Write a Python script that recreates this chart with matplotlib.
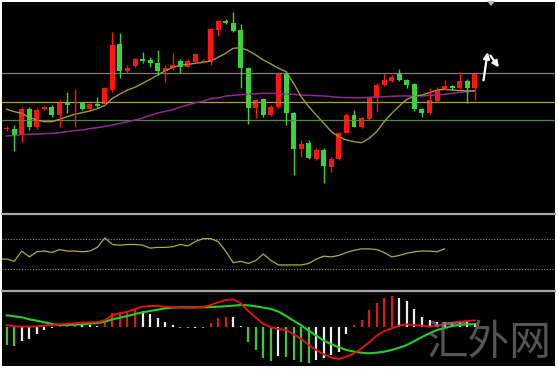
import matplotlib
matplotlib.use("Agg")
import matplotlib.pyplot as plt
import numpy as np
from matplotlib.lines import Line2D
from matplotlib.patches import Rectangle, Polygon

# candles (price in chart points)
opens = [243, 242, 225, 302, 248, 302, 310, 285, 325, 320, 322, 304, 318, 318, 360, 497,
         417, 432, 452, 450, 442, 417, 425, 447, 430, 445, 445, 445, 540, 568, 560, 540,
         425, 305, 332, 285, 310, 408, 292, 182, 202, 152, 180, 130, 152, 232, 285, 250,
         273, 335, 375, 387, 408, 390, 377, 302, 290, 328, 362, 372, 365, 388, 365]
highs = [252, 255, 308, 308, 305, 312, 315, 330, 355, 362, 325, 320, 340, 368, 535, 530,
         435, 455, 475, 460, 480, 435, 470, 452, 452, 472, 452, 545, 570, 572, 595, 558,
         430, 332, 335, 315, 415, 415, 295, 210, 210, 185, 185, 160, 235, 290, 300, 280,
         340, 380, 412, 405, 422, 392, 380, 305, 365, 368, 390, 375, 415, 392, 412]
lows = [238, 178, 205, 240, 242, 300, 280, 248, 290, 248, 300, 302, 310, 315, 355, 395,
        410, 430, 440, 430, 405, 385, 420, 410, 428, 442, 440, 435, 522, 558, 535, 365,
        258, 275, 280, 282, 305, 255, 105, 160, 152, 150, 80, 115, 150, 230, 248, 245,
        270, 295, 372, 385, 387, 365, 298, 280, 288, 325, 360, 360, 362, 322, 330]
closes = [247, 225, 302, 248, 300, 310, 285, 325, 315, 322, 302, 318, 312, 365, 495, 417,
          427, 452, 448, 440, 417, 425, 434, 430, 448, 468, 447, 542, 568, 560, 538, 425,
          305, 330, 285, 310, 408, 292, 182, 198, 155, 180, 132, 152, 232, 285, 250, 275,
          338, 375, 390, 400, 390, 375, 302, 290, 330, 360, 372, 365, 388, 365, 408]

ma_fast = [302, 295, 290, 278, 270, 265, 265, 272, 280, 287, 292, 297, 304, 314, 335, 348,
           360, 368, 380, 392, 405, 418, 428, 434, 437, 440, 443, 447, 458, 470, 485, 487,
           478, 465, 450, 438, 425, 415, 380, 340, 310, 285, 260, 235, 220, 210, 205, 202,
           215, 235, 265, 290, 312, 332, 342, 345, 352, 360, 362, 360, 358, 357, 358]
ma_slow = [222, 224, 226, 227, 228, 229, 230, 232, 235, 238, 240, 244, 247, 251, 255, 260,
           265, 270, 276, 284, 291, 296, 301, 309, 315, 322, 326, 334, 336, 342, 344, 346,
           347, 349, 350, 350, 349, 348, 347, 345, 344, 343, 342, 340, 338, 337, 337, 337,
           338, 339, 340, 341, 342, 342, 342, 342, 344, 345, 347, 350, 353, 355, 358]
levels = [410, 324, 270]
level_colors = ["#7f7f7f", "#a8a430", "#4d8a2e"]

# oscillator, starts one bar before the first candle
rsi = [43, 43, 40, 54, 46, 53, 54, 52, 56, 54, 54, 53, 54, 59, 72, 63, 62, 63, 63, 62,
       58, 59, 59, 60, 63, 61, 67, 71, 71, 67, 54, 38, 40, 37, 41, 50, 41, 35, 35, 35,
       35, 37, 43, 47, 46, 48, 52, 55, 57, 57, 56, 52, 46, 48, 51, 53, 54, 54, 53, 57]

macd_hist = [-53, -56, -41, -35, -21, -8, -3, 3, 8, 10, 9, 7, 5, 22, 42, 47, 49, 52, 49, 39,
             27, 15, 7, -3, -3, -3, -3, 12, 27, 32, 32, 4, -43, -68, -93, -101, -86, -88,
             -98, -103, -106, -98, -93, -83, -73, -21, 7, 22, 52, 72, 89, 94, 89, 79, 55,
             32, 22, 17, 15, 15, 15, 17, 12]
hist_colors = list("ggwwwwwrrrwwwrrrrrwwwwwggwgrrrwwggggwgggg" "wwwwwrrrrrrwwwwwwwwwww")
macd_line = [7, 3, 2, 2, 3, 5, 7, 9, 11, 12, 14, 15, 16, 21, 37, 42, 47, 55, 62, 64, 64,
             62, 60, 59, 59, 59, 61, 67, 75, 82, 84, 72, 49, 29, 10, 0, -5, -8, -21, -35,
             -53, -68, -81, -91, -95, -88, -78, -63, -45, -25, -11, -3, 5, 9, 7, 5, 2, 5,
             9, 14, 17, 19, 21]
signal_line = [36, 33, 30, 24, 20, 15, 10, 7, 7, 8, 9, 11, 13, 17, 24, 29, 34, 40, 45, 49,
               53, 57, 59, 60, 60, 60, 60, 61, 62, 63, 65, 67, 66, 63, 59, 55, 47, 34, 20,
               6, -10, -25, -40, -51, -60, -68, -73, -76, -78, -76, -73, -68, -61, -53, -41,
               -29, -18, -8, -2, 4, 7, 9, 9]

W, H = 558, 369
fig = plt.figure(figsize=(W / 100, H / 100), dpi=100, facecolor="white")


def fbox(x0, y0, x1, y1):
    return [x0 / W, 1 - y1 / H, (x1 - x0) / W, (y1 - y0) / H]


fig.add_artist(Rectangle((2 / W, 1 - 366 / H), 553 / W, 364 / H, zorder=-10,
                         transform=fig.transFigure, facecolor="black", edgecolor="none"))

ax = fig.add_axes(fbox(2, 2, 555, 213))
ax_rsi = fig.add_axes(fbox(2, 215, 555, 290))
ax_macd = fig.add_axes(fbox(2, 292, 555, 366))
for a in (ax, ax_rsi, ax_macd):
    a.set_facecolor("black")
    a.set_xlim(-0.62, 72.62)
    a.set_xticks([])
    a.set_yticks([])
    for s in a.spines.values():
        s.set_visible(False)

for py in (214, 291):
    fig.add_artist(Line2D([2 / W, 555 / W], [1 - py / H, 1 - py / H],
                          transform=fig.transFigure, color="#a8a8a8", lw=1.6))

# main panel
x = np.arange(len(opens))
for lv, col in zip(levels, level_colors):
    ax.axhline(lv, color=col, lw=0.9)
ax.plot(x, ma_slow, color="#8e2a8e", lw=1.1)
ax.plot(x, ma_fast, color="#a39a38", lw=1.0)
for i in x:
    up = closes[i] >= opens[i]
    col = "#ff1414" if up else "#3cd23c"
    ax.vlines(i, lows[i], highs[i], color=col, lw=1.0)
    lo, hi = min(opens[i], closes[i]), max(opens[i], closes[i])
    ax.add_patch(Rectangle((i - 0.33, lo), 0.66, max(hi - lo, 3), facecolor=col, edgecolor="none"))
ax.set_ylim(-9, 624)

ax.annotate("", xy=(63.75, 482), xytext=(63.1, 381),
            arrowprops=dict(arrowstyle="-|>", color="white", lw=1.6, mutation_scale=9))
ax.annotate("", xy=(65.4, 421), xytext=(63.85, 470),
            arrowprops=dict(arrowstyle="-|>", color="white", lw=1.6, mutation_scale=9))

fig.add_artist(Polygon([[487 / W, 1 - 1 / H], [495 / W, 1 - 1 / H], [491 / W, 1 - 6 / H]],
                       closed=True, transform=fig.transFigure, facecolor="#b8b8b8", edgecolor="none"))

# oscillator panel
xr = np.arange(len(rsi)) - 1
ax_rsi.axhline(70, color="#8c8c9a", lw=0.8, ls=(0, (1, 1.5)))
ax_rsi.axhline(30, color="#8c8c9a", lw=0.8, ls=(0, (1, 1.5)))
ax_rsi.plot(xr, rsi, color="#b0ab3c", lw=0.9)
ax_rsi.set_ylim(0.7, 103.3)

# macd panel
cmap = {"r": "#d81a1a", "w": "#eeeeee", "g": "#3cc83c"}
ax_macd.vlines(x, 0, macd_hist, colors=[cmap[c] for c in hist_colors], lw=1.6)
ax_macd.plot(x, signal_line, color="#22d022", lw=1.5)
ax_macd.plot(x, macd_line, color="#e01212", lw=1.4)
ax_macd.set_ylim(-116, 106)

fig.text(489 / W, 1 - 343 / H, "汇外网", ha="center", va="center", fontsize=30,
         family=["Noto Sans CJK SC", "DejaVu Sans"], fontweight="light",
         color="#7a7a7a", alpha=0.7)

fig.savefig("out.png", dpi=100, facecolor="white")
